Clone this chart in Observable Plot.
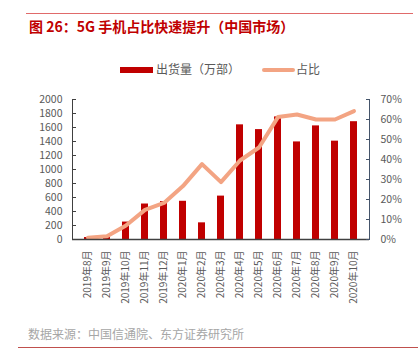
<!DOCTYPE html>
<html>
<head>
<meta charset="utf-8">
<script src="https://cdn.jsdelivr.net/npm/d3@7"></script>
<script src="https://cdn.jsdelivr.net/npm/@observablehq/plot@0.6"></script>
<style>
  html, body { margin: 0; padding: 0; background: #fff; }
  body { width: 418px; height: 364px; position: relative; overflow: hidden;
         font-family: "Noto Sans CJK SC", "Noto Sans", sans-serif; }
  .abs { position: absolute; white-space: nowrap; }
  #topline { left: 26px; top: 12.5px; width: 387px; height: 0; border-top: 1px solid #E06A6A; }
  #title { left: 29px; top: 17px; font-size: 14px; line-height: 18px; color: #C00000; font-weight: bold; }
  #legend { left: 0; top: 60px; width: 418px; height: 18px; font-size: 12px; color: #595959; }
  .sw-bar { position: absolute; left: 120px; top: 6.5px; width: 33px; height: 6px; background: #C00000; }
  .lg1 { position: absolute; left: 156px; top: 0; line-height: 18px; }
  .sw-line { position: absolute; left: 262px; top: 7.5px; width: 33px; height: 4px; background: #F3A483; border-radius: 2px; }
  .lg2 { position: absolute; left: 296px; top: 0; line-height: 18px; }
  #chart { left: 0; top: 90px; }
  #caption { left: 28px; top: 326px; font-size: 12px; line-height: 16px; color: #A6A6A6; }
  #botline { left: 18px; top: 346.5px; width: 400px; height: 0; border-top: 1.5px solid #C0504D; }
</style>
</head>
<body>
<div id="topline" class="abs"></div>
<div id="title" class="abs">图 26：5G 手机占比快速提升（中国市场）</div>
<div id="legend" class="abs">
  <div class="sw-bar"></div><div class="lg1">出货量（万部）</div>
  <div class="sw-line"></div><div class="lg2">占比</div>
</div>
<div id="chart" class="abs"></div>
<div id="caption" class="abs">数据来源：中国信通院、东方证券研究所</div>
<div id="botline" class="abs"></div>
<script>
const months = ["2019年8月","2019年9月","2019年10月","2019年11月","2019年12月","2020年1月","2020年2月","2020年3月","2020年4月","2020年5月","2020年6月","2020年7月","2020年8月","2020年9月","2020年10月"];
const shipments = [28, 35, 249, 507, 542, 546, 238, 620, 1638, 1570, 1751, 1394, 1623, 1405, 1683];
const sharePct = [0.9, 1.6, 7.0, 14.8, 18.3, 26.7, 37.7, 28.7, 39.5, 46.0, 61.2, 62.5, 60.0, 60.0, 64.2];
const leftTicks = [0, 200, 400, 600, 800, 1000, 1200, 1400, 1600, 1800, 2000];
const rightTicks = [0, 10, 20, 30, 40, 50, 60, 70];

const leftMax = 2000, rightMax = 70;
const rows = months.map((m, i) => ({month: m, ship: shipments[i], share: sharePct[i]}));

const chart = Plot.plot({
  width: 418,
  height: 230,
  marginTop: 9,
  marginBottom: 81,
  marginLeft: 72,
  marginRight: 49,
  style: {fontFamily: "'Noto Sans CJK SC', 'Noto Sans', sans-serif", background: "transparent", overflow: "visible"},
  x: {domain: months, paddingInner: 0.65, paddingOuter: 0.325, axis: null},
  y: {domain: [0, leftMax], axis: null},
  marks: [
    Plot.barY(rows, {x: "month", y: "ship", fill: "#C00000"}),
    Plot.line(rows, {x: "month", y: d => d.share * leftMax / rightMax, stroke: "#F3A483", strokeWidth: 4, strokeLinejoin: "round", strokeLinecap: "round"}),
    Plot.ruleY([0], {stroke: "#404040", strokeWidth: 1.5}),
    Plot.frame({anchor: "left", stroke: "#404040"}),
    Plot.frame({anchor: "right", stroke: "#44546A"}),
    Plot.axisY(leftTicks, {anchor: "left", label: null, tickSize: -4, tickPadding: 14, fontSize: 10.5, stroke: "#404040", fill: "#595959", tickFormat: d => String(d)}),
    Plot.axisY(rightTicks.map(p => p * leftMax / rightMax), {anchor: "right", label: null, tickSize: -4, tickPadding: 15, fontSize: 10.5, stroke: "#44546A", fill: "#595959", tickFormat: d => Math.round(d * rightMax / leftMax) + "%"}),
    Plot.axisX({anchor: "bottom", label: null, tickSize: 0, tickPadding: 11, tickRotate: -90, fontSize: 10, fill: "#595959"})
  ]
});
document.getElementById("chart").appendChild(chart);
</script>
</body>
</html>
